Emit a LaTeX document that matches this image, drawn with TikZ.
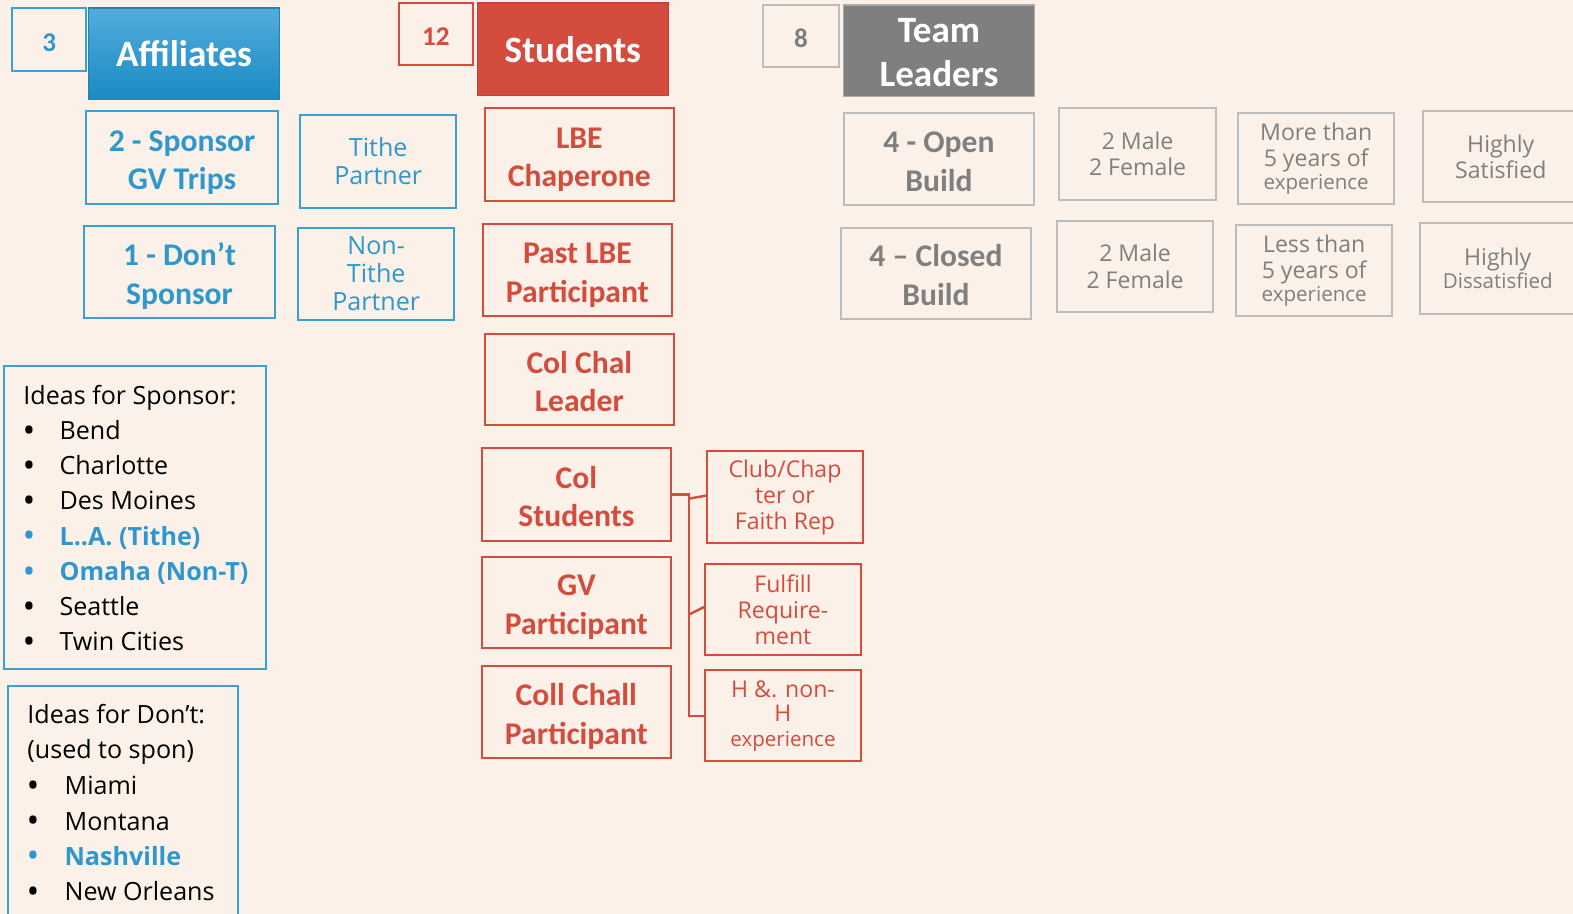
\documentclass[tikz,border=0pt]{standalone}
\usepackage{fontspec}
\setmainfont{Open Sans}
\newfontfamily\headfont{Carlito}
\usetikzlibrary{calc}

\definecolor{bg}{HTML}{FBF1E8}
\definecolor{ablue}{HTML}{2E98CE}
\definecolor{ablueline}{HTML}{3AA0D4}
\definecolor{bluetop}{HTML}{52ACDC}
\definecolor{bluebot}{HTML}{1A8BC3}
\definecolor{ared}{HTML}{D44C3E}
\definecolor{agray}{HTML}{7F7F7F}
\definecolor{lgray}{HTML}{BCBCBC}

% invisible struts that give the first line of a cell some extra head room
\newcommand\boldstrut{\rule{0pt}{12.8pt}}
\newcommand\headstrut{\rule{0pt}{14pt}}

\begin{document}
\begin{tikzpicture}[x=0.5pt,y=-0.5pt,
  wh/.style 2 args={minimum width=#1*0.5pt, minimum height=#2*0.5pt},
  cell/.style={draw, line width=1pt, inner sep=0pt, align=center},
  bluecell/.style={cell, draw=ablueline, text=ablue},
  redcell/.style={cell, draw=ared, text=ared},
  graycell/.style={cell, draw=lgray, text=agray},
  boldtxt/.style={font=\headfont\bfseries\fontsize{15.75}{19.25}\selectfont, text depth=0pt},
  numtxt/.style={font=\headfont\bfseries\fontsize{13.5}{16}\selectfont,
    execute at begin node={\rule{0pt}{11.5pt}}},
  headtxt/.style={font=\headfont\bfseries\fontsize{18.5}{22}\selectfont, text=white},
  midtxt/.style={font=\fontsize{12.5}{14}\selectfont},
  smalltxt/.style={font=\fontsize{11.5}{13}\selectfont},
  listtxt/.style={font=\fontsize{12.5}{15}\selectfont, inner sep=0pt, anchor=mid west},
  bullet/.style={font=\fontsize{17}{18}\selectfont, inner sep=0pt, anchor=mid, yshift=-1.4pt},
  link/.style={draw=ared, line width=1.2pt}
]
\fill[bg] (0,0) rectangle (1568,911);
\useasboundingbox (0,0) rectangle (1568,911);

% ---- Affiliates column ----
\node[bluecell, numtxt, wh={74}{63}] (n3) at (49,39.5) {3};
\node[cell, draw=ablue!85!black, line width=0.6pt, top color=bluetop, bottom color=bluebot,
      headtxt, wh={191}{91}] (aff) at (183.5,53.5) {Affiliates};
\node[bluecell, boldtxt, wh={191}{92}] (spon) at (181.5,157) {\boldstrut 2 - Sponsor\\GV Trips};
\node[bluecell, midtxt, wh={156}{92}] (tithe) at (377,161) {Tithe\\Partner};
\node[bluecell, boldtxt, wh={190}{92}] (dont) at (179,271) {\boldstrut 1 - Don’t\\Sponsor};
\node[bluecell, midtxt, wh={156}{92}] (ntithe) at (375,273) {Non-\\Tithe\\Partner};

% ---- Students column ----
\node[redcell, numtxt, wh={73}{62}] (n12) at (434.5,34) {12};
\node[cell, draw=ared!90!black, line width=0.6pt, fill=ared, headtxt, wh={190}{92}] (stu) at (571,49) {Students};
\node[redcell, boldtxt, wh={189}{92}] (lbe) at (577.5,154) {\boldstrut LBE\\Chaperone};
\node[redcell, boldtxt, wh={189}{92}] (past) at (575.5,269) {\boldstrut Past LBE\\Participant};
\node[redcell, boldtxt, wh={189}{91}] (ccl) at (577.5,378.5) {\boldstrut Col Chal\\Leader};
\node[redcell, boldtxt, wh={189}{92}] (colstu) at (574.5,493) {\boldstrut Col\\Students};
\node[redcell, boldtxt, wh={189}{91}] (gvp) at (574.5,600.5) {\boldstrut GV\\Participant};
\node[redcell, boldtxt, wh={189}{92}] (ccp) at (574.5,710) {\boldstrut Coll Chall\\Participant};

\node[redcell, smalltxt, wh={155}{91}] (club) at (782.5,495.5) {Club/Chap\\ter or\\Faith Rep};
\node[redcell, smalltxt, wh={155}{91}] (fulfill) at (780.5,607.5) {Fulfill\\Require-\\ment};
\node[redcell, font=\fontsize{11.5}{12.2}\selectfont, wh={155}{91}] (hexp) at (780.5,713.5)
  {H \&. non-\\H\\{\fontsize{10.25}{12}\selectfont experience}};

% elbow connector from Col Students to its three sub-boxes
\draw[link] (colstu.east) -- ++(17,0) coordinate (jn) |- (hexp.west);
\draw[link] ($(jn)+(0,4)$) -- ($(club.west)+(0,-1.5)$);
\draw[link] ($(jn |- fulfill.west)+(0,5)$) -- ($(fulfill.west)+(0,-2.5)$);

% ---- Team Leaders column ----
\node[graycell, numtxt, wh={75}{62}] (n8) at (798.5,36) {8};
\node[cell, draw=lgray!70!agray, line width=0.6pt, fill=agray, headtxt, wh={190}{91}]
  (team) at (936,50.5) {\headstrut Team\\Leaders};
\node[graycell, boldtxt, wh={190}{91}] (open) at (936,158.5) {\boldstrut 4 - Open\\Build};
\node[graycell, boldtxt, wh={190}{91}] (closed) at (933,272.5) {\boldstrut 4 – Closed\\Build};
\node[graycell, smalltxt, wh={156}{91}] (mfa) at (1134,153.5) {2 Male\\2 Female};
\node[graycell, smalltxt, wh={155}{91}] (mfb) at (1131.5,265.5) {2 Male\\2 Female};
\node[graycell, smalltxt, wh={156}{90}, yshift=-1pt] (more) at (1312,156)
  {More than\\5 years of\\[-1.6pt]{\fontsize{10.25}{12}\selectfont experience}};
\node[graycell, smalltxt, wh={156}{91}, yshift=-1pt] (less) at (1310,267.5)
  {Less than\\5 years of\\[-1.6pt]{\fontsize{10.25}{12}\selectfont experience}};
\node[graycell, smalltxt, wh={156}{90}] (sat) at (1496,156) {Highly\\Satisfied};
\node[graycell, smalltxt, wh={156}{91}] (dis) at (1493,267.5)
  {Highly\\[-1.5pt]{\fontsize{10.25}{12}\selectfont Dissatisfied}};

% ---- idea lists ----
\draw[ablueline, line width=1pt] (4,365) rectangle (265,667);
\node[listtxt] (sptitle) at (23,398) {Ideas for Sponsor:};
\foreach \txt/\col/\bf [count=\i from 0] in
  {Bend/black/, Charlotte/black/, Des Moines/black/,
   L..A. (Tithe)/ablue/\bfseries, Omaha (Non-T)/ablue/\bfseries,
   Seattle/black/, Twin Cities/black/}{
  \node[bullet, text=\col] (sb\i) at (29,433+35*\i) {•};
  \node[listtxt, text=\col] (si\i) at (59,433+35*\i) {\bf\txt};
}

\draw[ablueline, line width=1pt] (8,925) -- (8,684) -- (237,684) -- (237,925);
\node[listtxt] (dtitle) at (27,716) {Ideas for Don’t:};
\node[listtxt] (dsub) at (27,751) {(used to spon)};
\foreach \txt/\col/\bf [count=\i from 0] in
  {Miami/black/, Montana/black/, Nashville/ablue/\bfseries, New Orleans/black/}{
  \node[bullet, text=\col] (db\i) at (33,787+35*\i) {•};
  \node[listtxt, text=\col] (di\i) at (64,787+35*\i) {\bf\txt};
}
\end{tikzpicture}
\end{document}
